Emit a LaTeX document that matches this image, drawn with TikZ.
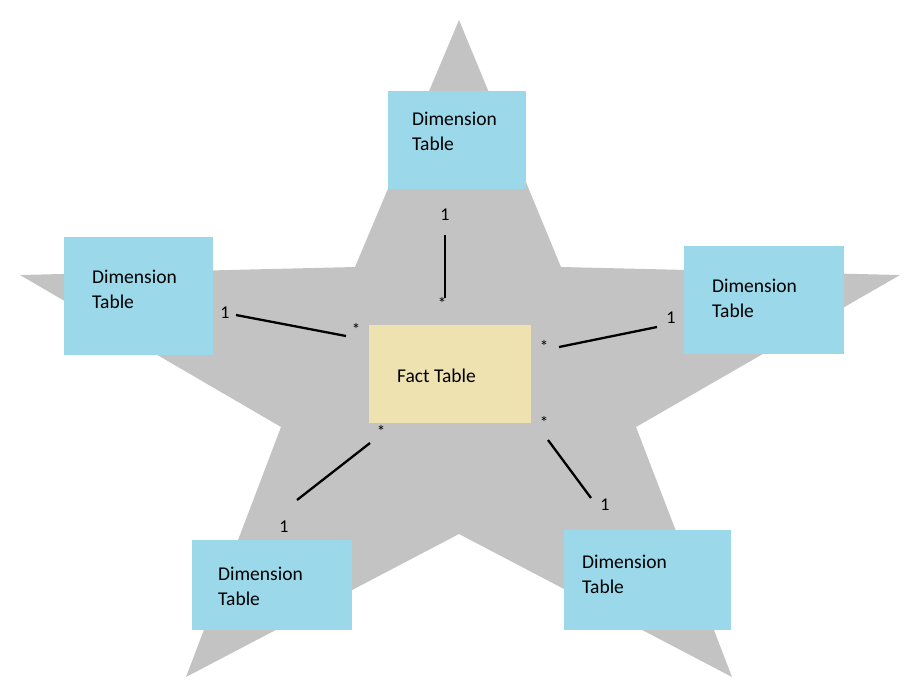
\documentclass[tikz,border=0pt]{standalone}
\usepackage{fontspec}
\setmainfont{Carlito}
\definecolor{stargray}{RGB}{195,195,195}
\definecolor{dimblue}{RGB}{155,216,233}
\definecolor{facttan}{RGB}{238,227,176}
\begin{document}
\begin{tikzpicture}[x=1pt,y=-1pt,
  dimbox/.style={fill=dimblue,draw=none,inner sep=0pt},
  factbox/.style={fill=facttan,draw=none,inner sep=0pt},
  boxtext/.style={font=\fontsize{19.5pt}{25pt}\selectfont,align=left,inner sep=0pt,anchor=north west},
  onelbl/.style={font=\fontsize{18pt}{20pt}\selectfont,inner sep=0pt},
  manylbl/.style={font=\fontsize{17pt}{19pt}\selectfont,inner sep=0pt},
  link/.style={line width=2.3pt,black}]
\useasboundingbox (0,0) rectangle (915,697);
% star
\fill[stargray] (459,20) -- (561,267) -- (900,275) -- (636,427) -- (732,677)
  -- (459,534) -- (186,677) -- (281,427) -- (20,275) -- (355,267) -- cycle;
% boxes
\node[dimbox,minimum width=138pt,minimum height=98pt] (dtop) at (457,140) {};
\node[dimbox,minimum width=149pt,minimum height=118pt] (dleft) at (138.5,296) {};
\node[dimbox,minimum width=160pt,minimum height=108pt] (dright) at (763.5,299.5) {};
\node[dimbox,minimum width=160pt,minimum height=90pt] (dbl) at (272,585) {};
\node[dimbox,minimum width=167pt,minimum height=100pt] (dbr) at (647.5,580) {};
\node[factbox,minimum width=162pt,minimum height=98pt] (fact) at (450,374) {};
% texts
\node[boxtext] (ttop) at (412,112) {Dimension\\Table};
\node[boxtext] (tleft) at (92,270) {Dimension\\Table};
\node[boxtext] (tright) at (712,279) {Dimension\\Table};
\node[boxtext] (tbl) at (218,567) {Dimension\\Table};
\node[boxtext] (tbr) at (582,555) {Dimension\\Table};
\node[font=\fontsize{19.5pt}{25pt}\selectfont,inner sep=0pt,anchor=base west] (tfact) at (397,382) {Fact Table};
% multiplicity labels
\node[onelbl] (o1) at (445,215) {1};
\node[manylbl] (m1) at (442,303) {*};
\node[onelbl] (o2) at (225,313) {1};
\node[manylbl] (m2) at (356,329) {*};
\node[onelbl] (o3) at (671,318) {1};
\node[manylbl] (m3) at (544,346) {*};
\node[onelbl] (o4) at (605,505) {1};
\node[manylbl] (m4) at (544,422) {*};
\node[onelbl] (o5) at (284,527) {1};
\node[manylbl] (m5) at (381,431) {*};
% connector ends
\coordinate (a1) at (445,235); \coordinate (b1) at (445,298);
\coordinate (a2) at (236,315); \coordinate (b2) at (346,336);
\coordinate (a3) at (657,327); \coordinate (b3) at (559,347);
\coordinate (a4) at (591,498); \coordinate (b4) at (548,440);
\coordinate (a5) at (297,500); \coordinate (b5) at (370,443);
\draw[link] (a1) -- (b1);
\draw[link] (a2) -- (b2);
\draw[link] (a3) -- (b3);
\draw[link] (a4) -- (b4);
\draw[link] (a5) -- (b5);
\end{tikzpicture}
\end{document}
